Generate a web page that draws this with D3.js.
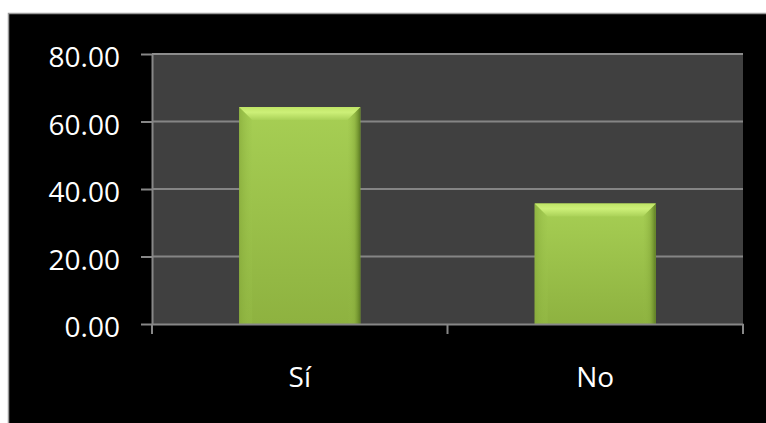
<!DOCTYPE html>
<html>
<head>
<meta charset="utf-8">
<script src="https://cdn.jsdelivr.net/npm/d3@7"></script>
<style>
  html, body { margin: 0; padding: 0; background: #fff; overflow: hidden; }
  svg { display: block; }
</style>
</head>
<body>
<div id="chart"></div>
<script>
const categories = ["Sí", "No"];
const values = [64.29, 35.71];
const yTicks = [0, 20, 40, 60, 80];

const width = 766, height = 423;
const margin = { top: 54, right: 23, bottom: 99, left: 152 };
const fontFamily = "'Open Sans', sans-serif";

const svg = d3.select("#chart").append("svg")
    .attr("width", width)
    .attr("height", height);

// black frame, running off the bottom and right edges
svg.append("rect")
    .attr("x", 8.5).attr("y", 13.5)
    .attr("width", 800).attr("height", 500)
    .attr("fill", "#000")
    .attr("stroke", "#9a9a9a")
    .attr("stroke-width", 1.5);

const x = d3.scaleBand()
    .domain(categories)
    .range([margin.left, width - margin.right])
    .paddingInner(0.59)
    .paddingOuter(0.295);

const y = d3.scaleLinear()
    .domain([0, 80])
    .range([height - margin.bottom, margin.top]);

// plot area
svg.append("rect")
    .attr("x", margin.left).attr("y", margin.top)
    .attr("width", width - margin.right - margin.left)
    .attr("height", y(0) - margin.top)
    .attr("fill", "#404040");

// gridlines
svg.append("g").selectAll("line").data(yTicks.filter(d => d > 0)).join("line")
    .attr("x1", margin.left).attr("x2", width - margin.right)
    .attr("y1", d => y(d)).attr("y2", d => y(d))
    .attr("stroke", d => d === 80 ? "#8c8c8c" : "#858585")
    .attr("stroke-width", 2);

// gradients
const defs = svg.append("defs");
const body = defs.append("linearGradient").attr("id", "gBody")
    .attr("x1", 0).attr("x2", 0).attr("y1", 0).attr("y2", 1);
body.append("stop").attr("offset", "0%").attr("stop-color", "#a7cf54");
body.append("stop").attr("offset", "100%").attr("stop-color", "#8eb240");

const topG = defs.append("linearGradient").attr("id", "gTop")
    .attr("x1", 0).attr("x2", 0).attr("y1", 0).attr("y2", 1);
topG.append("stop").attr("offset", "0%").attr("stop-color", "#bfe466");
topG.append("stop").attr("offset", "40%").attr("stop-color", "#cdf078");
topG.append("stop").attr("offset", "100%").attr("stop-color", "#aad158");

const rightG = defs.append("linearGradient").attr("id", "gRight")
    .attr("x1", 0).attr("x2", 1).attr("y1", 0).attr("y2", 0);
rightG.append("stop").attr("offset", "0%").attr("stop-color", "#97bd47").attr("stop-opacity", 0);
rightG.append("stop").attr("offset", "55%").attr("stop-color", "#88ac3c").attr("stop-opacity", 0.6);
rightG.append("stop").attr("offset", "100%").attr("stop-color", "#5c7b23");

const leftG = defs.append("linearGradient").attr("id", "gLeft")
    .attr("x1", 0).attr("x2", 1).attr("y1", 0).attr("y2", 0);
leftG.append("stop").attr("offset", "0%").attr("stop-color", "#86aa3a").attr("stop-opacity", 0.7);
leftG.append("stop").attr("offset", "100%").attr("stop-color", "#9ec64e").attr("stop-opacity", 0.2);

// bars with a soft bevel
const bev = 13;
const bars = svg.append("g").selectAll("g").data(categories).join("g");
bars.each(function(c, i) {
    const g = d3.select(this);
    const x0 = x(c), x1 = x(c) + x.bandwidth();
    const y0 = y(values[i]), yb = y(0);
    const pts = p => p.map(q => q.join(",")).join(" ");
    g.append("rect")
        .attr("x", x0).attr("y", y0)
        .attr("width", x.bandwidth()).attr("height", yb - y0)
        .attr("fill", "url(#gBody)");
    g.append("polygon")
        .attr("points", pts([[x0, y0], [x0 + bev, y0 + bev], [x0 + bev, yb], [x0, yb]]))
        .attr("fill", "url(#gLeft)");
    g.append("polygon")
        .attr("points", pts([[x1, y0], [x1 - bev, y0 + bev], [x1 - bev, yb], [x1, yb]]))
        .attr("fill", "url(#gRight)");
    g.append("polygon")
        .attr("points", pts([[x0, y0], [x1, y0], [x1 - bev, y0 + bev], [x0 + bev, y0 + bev]]))
        .attr("fill", "url(#gTop)");
});

// y axis
const yAxis = svg.append("g")
    .attr("transform", `translate(${margin.left},0)`)
    .call(d3.axisLeft(y).tickValues(yTicks).tickFormat(d3.format(".2f"))
        .tickSize(11).tickSizeOuter(0).tickPadding(21));
yAxis.selectAll("path, line").attr("stroke", "#878787").attr("stroke-width", 2);
yAxis.selectAll("text")
    .attr("fill", "#fff")
    .attr("dy", 12.5)
    .style("font-family", fontFamily)
    .style("font-size", "28px");

// x axis
const xAxis = svg.append("g")
    .attr("transform", `translate(0,${y(0)})`)
    .call(d3.axisBottom(x).tickSize(0).tickSizeOuter(0).tickPadding(43));
xAxis.select("path").attr("stroke", "#878787").attr("stroke-width", 2);
xAxis.selectAll("text")
    .attr("fill", "#fff")
    .style("font-family", fontFamily)
    .style("font-size", "28px");

// category boundary ticks
const bounds = d3.range(categories.length + 1).map(i => x.range()[0] + i * x.step());
svg.append("g").selectAll("line").data(bounds).join("line")
    .attr("x1", d => d).attr("x2", d => d)
    .attr("y1", y(0)).attr("y2", y(0) + 10)
    .attr("stroke", "#878787").attr("stroke-width", 2);
</script>
</body>
</html>
